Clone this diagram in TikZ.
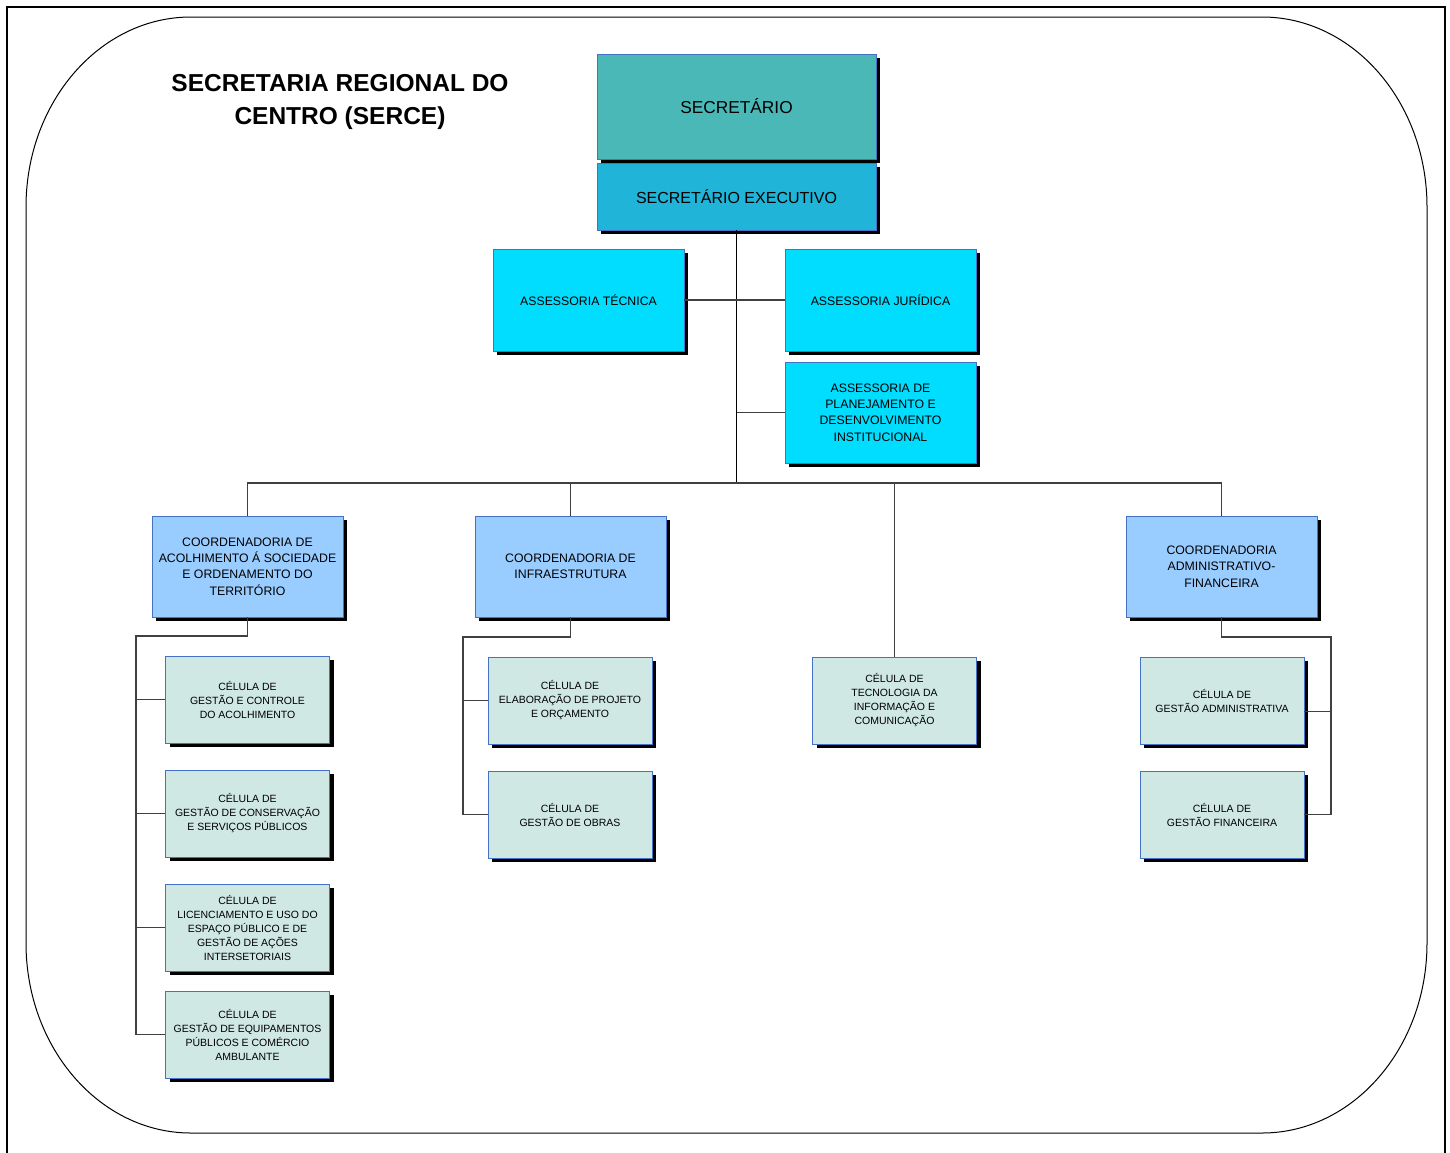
\documentclass[tikz,border=0pt]{standalone}
\usepackage{fontspec}
\setmainfont{Liberation Sans}
\usetikzlibrary{shadows}
\definecolor{secfill}{RGB}{75,184,184}
\definecolor{execfill}{RGB}{32,180,216}
\definecolor{assfill}{RGB}{0,221,255}
\definecolor{coordfill}{RGB}{153,204,255}
\definecolor{celfill}{RGB}{208,232,228}
\definecolor{boxline}{RGB}{68,114,196}
\tikzset{
  orgbox/.style={draw=boxline, line width=0.8pt, inner sep=0pt, align=center,
    drop shadow={shadow xshift=4pt, shadow yshift=-4pt, fill=black, opacity=1}},
  asbox/.style={orgbox, fill=assfill, minimum width=191pt, minimum height=102pt,
    font=\fontsize{12.3}{16.3}\selectfont},
  cobox/.style={orgbox, fill=coordfill, minimum width=191pt, minimum height=101pt,
    font=\fontsize{12.3}{16.3}\selectfont},
  celbox/.style={orgbox, fill=celfill, minimum width=164pt, minimum height=87pt,
    font=\fontsize{10.5}{14}\selectfont},
  conn/.style={draw=black!75, line width=1.2pt}
}
\begin{document}
\begin{tikzpicture}[x=1pt,y=-1pt]
\useasboundingbox (0,0) rectangle (1450,1152);
% frames
\draw[line width=2.2pt] (7,1160) -- (7,7) -- (1445,7) -- (1445,1160);
\draw[line width=1pt] (191,17) -- (1262,17)
  arc[start angle=90,end angle=0,x radius=165pt,y radius=190pt] -- (1427,943)
  arc[start angle=0,end angle=-90,x radius=165pt,y radius=190pt] -- (191,1133)
  arc[start angle=-90,end angle=-180,x radius=165pt,y radius=190pt] -- (26,207)
  arc[start angle=180,end angle=90,x radius=165pt,y radius=190pt] -- cycle;
\node[font=\bfseries\fontsize{24.5}{33}\selectfont, align=center] (title) at (340,102)
  {SECRETARIA REGIONAL DO\\CENTRO (SERCE)};

% top
\node[orgbox, fill=secfill, minimum width=279pt, minimum height=105pt,
  font=\fontsize{17.3}{20}\selectfont] (sec) at (736.5,106.5) {SECRETÁRIO};
\node[orgbox, fill=execfill, minimum width=279pt, minimum height=67pt,
  font=\fontsize{16}{20}\selectfont] (exec) at (736.5,196.5) {SECRETÁRIO EXECUTIVO};

% assessorias
\node[asbox] (asTec) at (588.5,300) {ASSESSORIA TÉCNICA};
\node[asbox] (asJur) at (880.5,300) {ASSESSORIA JURÍDICA};
\node[asbox, minimum height=101pt] (asPlan) at (880.5,412.5)
  {ASSESSORIA DE\\PLANEJAMENTO E\\DESENVOLVIMENTO\\INSTITUCIONAL};

% coordenadorias
\node[cobox] (coAcol) at (247.5,566.5)
  {COORDENADORIA DE\\ACOLHIMENTO Á SOCIEDADE\\E ORDENAMENTO DO\\TERRITÓRIO};
\node[cobox] (coInfra) at (570.5,566.5) {COORDENADORIA DE\\INFRAESTRUTURA};
\node[cobox] (coAdm) at (1221.5,566.5) {COORDENADORIA\\ADMINISTRATIVO-\\FINANCEIRA};

% celulas
\node[celbox] (ceAcol1) at (247.5,699.5) {CÉLULA DE\\GESTÃO E CONTROLE\\DO ACOLHIMENTO};
\node[celbox] (ceAcol2) at (247.5,813.5) {CÉLULA DE\\GESTÃO DE CONSERVAÇÃO\\E SERVIÇOS PÚBLICOS};
\node[celbox] (ceAcol3) at (247.5,927.5)
  {CÉLULA DE\\LICENCIAMENTO E USO DO\\ESPAÇO PÚBLICO E DE\\GESTÃO DE AÇÕES\\INTERSETORIAIS};
\node[celbox] (ceAcol4) at (247.5,1034.5)
  {CÉLULA DE\\GESTÃO DE EQUIPAMENTOS\\PÚBLICOS E COMÉRCIO\\AMBULANTE};
\node[celbox] (ceInfra1) at (570,700.5) {CÉLULA DE\\ELABORAÇÃO DE PROJETO\\E ORÇAMENTO};
\node[celbox] (ceInfra2) at (570,814.5) {CÉLULA DE\\GESTÃO DE OBRAS};
\node[celbox] (ceTI) at (894.5,700.5) {CÉLULA DE\\TECNOLOGIA DA\\INFORMAÇÃO E\\COMUNICAÇÃO};
\node[celbox] (ceAdm1) at (1222,700.5) {CÉLULA DE\\GESTÃO ADMINISTRATIVA};
\node[celbox] (ceAdm2) at (1222,814.5) {CÉLULA DE\\GESTÃO FINANCEIRA};

% connectors
\coordinate (bus) at (736.5,483);
\coordinate (k1) at (136,636);
\coordinate (k2) at (463,637);
\coordinate (k4) at (1331,637);
\draw[line width=1.2pt] (exec.south) -- (bus);
\draw[conn] (asTec.east) -- (asJur.west);
\draw[conn] (asPlan.west) -- (asPlan.west -| exec.south);
\draw[conn] (coAcol.north) |- (bus);
\draw[conn] (coInfra.north) |- (bus);
\draw[conn] (ceTI.north) |- (bus);
\draw[conn] (coAdm.north) |- (bus);
\draw[conn] (coAcol.south) |- (k1) |- (ceAcol4.west);
\draw[conn] (ceAcol1.west) -- (ceAcol1.west -| k1);
\draw[conn] (ceAcol2.west) -- (ceAcol2.west -| k1);
\draw[conn] (ceAcol3.west) -- (ceAcol3.west -| k1);
\draw[conn] (coInfra.south) |- (k2) |- (ceInfra2.west);
\draw[conn] (ceInfra1.west) -- (ceInfra1.west -| k2);
\draw[conn] (coAdm.south) |- (k4) |- (ceAdm2.east);
\draw[conn] ([yshift=-11pt]ceAdm1.east) -- ([yshift=-11pt]ceAdm1.east -| k4);
\end{tikzpicture}
\end{document}
